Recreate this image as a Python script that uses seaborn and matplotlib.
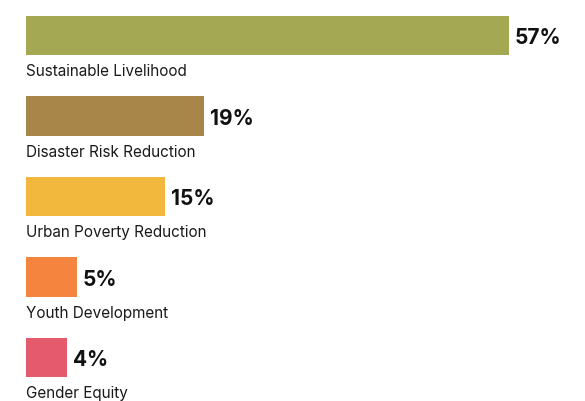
import pandas as pd
import matplotlib.pyplot as plt
import seaborn as sns

# values
categories = ["Sustainable Livelihood", "Disaster Risk Reduction", "Urban Poverty Reduction",
              "Youth Development", "Gender Equity"]
bar_share = [57, 21, 16.4, 6, 4.8]
share_labels = ["57%", "19%", "15%", "5%", "4%"]
colors = ["#A5A852", "#A8864A", "#F2B83D", "#F5843E", "#E55A6C"]

df = pd.DataFrame({"category": categories, "share": bar_share})

sns.set_style("white")
plt.rcParams["font.family"] = ["Inter", "DejaVu Sans"]

fig = plt.figure(figsize=(5.85, 4.02), dpi=100)
ax = fig.add_axes([26 / 585, 0, 1 - 26 / 585, 1])

sns.barplot(data=df, x="share", y="category", hue="category", palette=colors,
            orient="h", width=0.485, legend=False, saturation=1, linewidth=0, ax=ax)

ax.set_xlim(0, 66.0)
ax.set_ylim(4.54, -0.453)
ax.axis("off")

for i, (cat, val, lab) in enumerate(zip(categories, bar_share, share_labels)):
    ax.text(0, i + 0.345, cat, ha="left", va="top", fontsize=11, color="#1a1a1a")
    ax.text(val + 0.7, i + 0.02, lab, ha="left", va="center", fontsize=15,
            fontweight="bold", color="#111111")

fig.savefig("out.png", dpi=100)
plt.close(fig)
